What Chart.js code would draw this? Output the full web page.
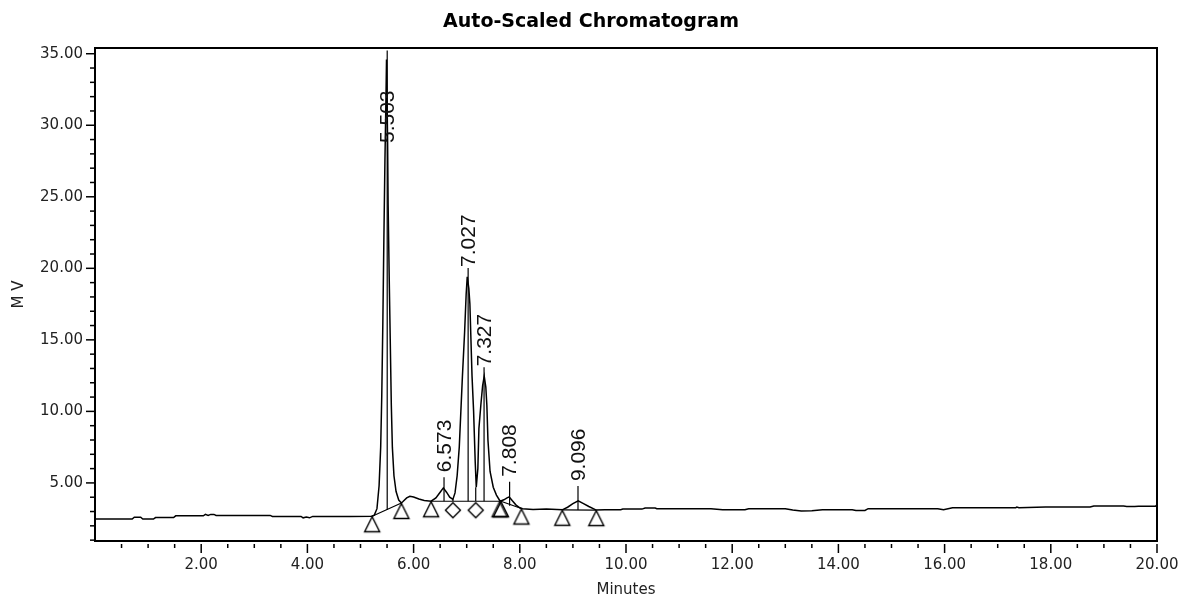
<!DOCTYPE html>
<html><head><meta charset="utf-8">
<script src="https://cdn.jsdelivr.net/npm/chart.js@4"></script>
<style>html,body{margin:0;padding:0;background:#fff;}canvas{display:block;}</style>
</head><body>
<canvas id="c" width="1182" height="598"></canvas>
<script>
// ---- data ----
const traceTime = [0.00,0.70,0.74,0.86,0.90,1.10,1.14,1.48,1.52,2.04,2.08,2.13,2.18,2.24,2.28,3.30,3.34,3.88,3.92,3.98,4.04,4.10,4.80,5.21,
  5.26,5.31,5.35,5.38,5.40,5.42,5.44,5.46,5.48,5.49,5.51,5.52,5.54,5.56,5.58,5.60,5.63,5.67,5.72,5.77,
  5.80,5.87,5.93,6.00,6.10,6.20,6.33,6.42,6.50,6.56,6.62,6.68,6.74,
  6.78,6.82,6.86,6.89,6.92,6.96,6.99,7.01,7.04,7.06,7.08,7.10,7.13,7.16,7.18,
  7.21,7.23,7.27,7.30,7.33,7.36,7.38,7.40,7.44,7.50,7.56,7.63,
  7.70,7.76,7.80,7.86,7.93,8.00,8.05,8.25,8.50,8.80,8.90,9.00,9.10,9.20,9.30,9.44,
  9.60,9.90,9.94,10.30,10.36,10.55,10.58,11.60,11.82,12.24,12.31,13.00,13.14,13.30,13.50,13.70,14.26,14.33,14.50,14.56,
  15.87,15.98,16.15,17.34,17.36,17.40,17.90,18.74,18.81,19.37,19.43,19.58,19.65,19.97,20.00];
const traceSignal = [2.48,2.48,2.60,2.60,2.47,2.47,2.58,2.58,2.70,2.70,2.80,2.73,2.80,2.80,2.73,2.73,2.66,2.66,2.56,2.61,2.56,2.66,2.66,2.67,
  2.75,3.2,4.8,7.5,11.0,16.0,22.0,27.5,32.0,34.6,29.0,24.5,19.5,15.0,10.5,7.5,5.5,4.4,3.8,3.6,
  3.7,3.95,4.07,4.02,3.88,3.77,3.72,3.95,4.35,4.65,4.35,4.0,3.85,
  4.3,5.5,7.5,10.0,12.5,15.5,18.2,19.4,18.6,17.5,15.0,12.5,10.0,6.5,4.7,
  6.0,8.8,10.6,11.8,12.45,11.7,10.4,8.0,5.8,4.7,4.15,3.72,
  3.82,3.95,4.02,3.75,3.45,3.26,3.2,3.15,3.18,3.12,3.3,3.55,3.75,3.55,3.35,3.1,
  3.12,3.12,3.17,3.17,3.25,3.25,3.2,3.2,3.12,3.12,3.2,3.2,3.1,3.03,3.06,3.13,3.13,3.07,3.08,3.2,
  3.2,3.12,3.27,3.27,3.31,3.27,3.32,3.32,3.39,3.39,3.35,3.35,3.37,3.37,3.47];

const peakTimes  = [5.503, 6.573, 7.027, 7.327, 7.808, 9.096];
const peakLabels = ['5.503','6.573','7.027','7.327','7.808','9.096'];
const peakApex   = [34.6, 4.65, 19.4, 12.45, 4.02, 3.75];
const peakBase   = [3.1, 3.72, 3.72, 3.72, 3.4, 3.1];

const triTime  = [5.22, 5.77, 6.33, 7.62, 7.645, 8.03, 8.80, 9.44];
const triValue = [2.67, 3.6, 3.72, 3.72, 3.72, 3.21, 3.12, 3.1];
const diaTime  = [6.74, 7.17];
const diaValue = [3.72, 3.72];

const segStartT = [5.22, 6.33, 7.645, 8.80, 6.74, 7.17];
const segStartV = [2.67, 3.72, 3.72, 3.12, 3.85, 4.7];
const segEndT   = [5.77, 7.63, 8.03, 9.44, 6.74, 7.17];
const segEndV   = [3.6, 3.72, 3.21, 3.1, 3.72, 3.72];

const xTickValues = [2,4,6,8,10,12,14,16,18,20];
const xTickLabels = ['2.00','4.00','6.00','8.00','10.00','12.00','14.00','16.00','18.00','20.00'];
const yTickValues = [5,10,15,20,25,30,35];
const yTickLabels = ['5.00','10.00','15.00','20.00','25.00','30.00','35.00'];
const xMinorStep = 0.5, yMinorStep = 1;
const xMin = 0, xMax = 20, yMin = 0.94, yMax = 35.4;

const titleText = 'Auto-Scaled Chromatogram';
const xTitle = 'Minutes';
const yTitle = 'M V';

// ---- marker glyphs (apex of glyph sits at the data point) ----
function makeTri(){
  const c=document.createElement('canvas'); c.width=20; c.height=40;
  const g=c.getContext('2d'); g.strokeStyle='#000'; g.lineWidth=1.4;
  g.beginPath(); g.moveTo(10,20.5); g.lineTo(2.5,35.5); g.lineTo(17.5,35.5); g.closePath(); g.stroke();
  return c;
}
function makeDia(){
  const c=document.createElement('canvas'); c.width=20; c.height=40;
  const g=c.getContext('2d'); g.strokeStyle='#000'; g.lineWidth=1.4;
  g.beginPath(); g.moveTo(10,21.5); g.lineTo(17.5,29); g.lineTo(10,36.5); g.lineTo(2.5,29); g.closePath(); g.stroke();
  return c;
}

const traceData = traceTime.map((t,i)=>({x:t,y:traceSignal[i]}));
const baseSegData = [];
segStartT.forEach((t,i)=>{ baseSegData.push({x:t,y:segStartV[i]},{x:segEndT[i],y:segEndV[i]},{x:segEndT[i],y:null}); });
const triData = triTime.map((t,i)=>({x:t,y:triValue[i]}));
const diaData = diaTime.map((t,i)=>({x:t,y:diaValue[i]}));

const decor = {
  id:'decor',
  afterDraw(chart){
    const {ctx, chartArea:a, scales:{x,y}} = chart;
    ctx.save();
    ctx.strokeStyle='#000'; ctx.fillStyle='#111';
    ctx.lineWidth=2;
    ctx.strokeRect(a.left, a.top, a.right-a.left, a.bottom-a.top);
    ctx.lineWidth=1.5;
    for(let v=Math.ceil(yMin); v<=yMax; v+=yMinorStep){
      const py=y.getPixelForValue(v);
      const len = yTickValues.includes(v) ? 9 : 5;
      ctx.beginPath(); ctx.moveTo(a.left-len, py); ctx.lineTo(a.left, py); ctx.stroke();
    }
    for(let v=xMin+xMinorStep; v<=xMax+1e-9; v+=xMinorStep){
      const px=x.getPixelForValue(v);
      const major = xTickValues.some(t=>Math.abs(t-v)<1e-6);
      ctx.beginPath(); ctx.moveTo(px, a.bottom+3); ctx.lineTo(px, a.bottom+(major?12:7)); ctx.stroke();
    }
    ctx.lineWidth=1.2;
    ctx.font='21px "Liberation Sans"';
    peakTimes.forEach((t,i)=>{
      const px=x.getPixelForValue(t);
      const pa=y.getPixelForValue(peakApex[i]);
      const pb=y.getPixelForValue(peakBase[i]);
      const tickTop=Math.min(pa-9, pb-24);
      ctx.beginPath(); ctx.moveTo(px,pb); ctx.lineTo(px,tickTop); ctx.stroke();
      const w=ctx.measureText(peakLabels[i]).width;
      let bottom=Math.min(pa-10, pb-29);
      if(bottom-w < a.top+4) bottom=a.top+95;
      ctx.save(); ctx.translate(px,bottom); ctx.rotate(-Math.PI/2);
      ctx.textAlign='left'; ctx.textBaseline='middle';
      ctx.fillText(peakLabels[i],0,1);
      ctx.restore();
    });
    ctx.fillStyle='#000';
    ctx.font='bold 19px "DejaVu Sans"'; ctx.textAlign='center'; ctx.textBaseline='alphabetic';
    ctx.fillText(titleText, chart.width/2, 27);
    ctx.fillStyle='#222';
    ctx.font='15px "DejaVu Sans"';
    ctx.fillText(xTitle, (a.left+a.right)/2, 594);
    ctx.save(); ctx.translate(23,(a.top+a.bottom)/2); ctx.rotate(-Math.PI/2);
    ctx.fillText(yTitle,0,0); ctx.restore();
    ctx.restore();
  }
};

new Chart(document.getElementById('c'), {
  type:'line',
  data:{datasets:[
    {data:traceData, borderColor:'#000', borderWidth:1.5, pointRadius:0, tension:0, fill:false},
    {data:baseSegData, borderColor:'#000', borderWidth:1.2, pointRadius:0, tension:0, fill:false, spanGaps:false},
    {data:triData, showLine:false, pointStyle:makeTri(), pointRadius:3},
    {data:diaData, showLine:false, pointStyle:makeDia(), pointRadius:3}
  ]},
  options:{
    responsive:false, animation:false, devicePixelRatio:1,
    layout:{padding:{left:0, top:48, right:25, bottom:0}},
    plugins:{legend:{display:false}, tooltip:{enabled:false}, title:{display:false}},
    events:[],
    scales:{
      x:{type:'linear', min:xMin, max:xMax,
        grid:{display:false, drawTicks:false}, border:{display:false},
        afterBuildTicks:(s)=>{ s.ticks = xTickValues.map(v=>({value:v})); },
        afterFit:(s)=>{ s.height = 57; s.paddingLeft = 0; s.paddingRight = 0; },
        ticks:{autoSkip:false, maxRotation:0, padding:15, color:'#222',
          font:{family:'"DejaVu Sans"', size:15},
          callback:(v,i)=>xTickLabels[i]}},
      y:{type:'linear', min:yMin, max:yMax,
        grid:{display:false, drawTicks:false}, border:{display:false},
        afterBuildTicks:(s)=>{ s.ticks = yTickValues.map(v=>({value:v})); },
        afterFit:(s)=>{ s.width = 95; s.paddingTop = 0; s.paddingBottom = 0; },
        ticks:{autoSkip:false, padding:12, color:'#222',
          font:{family:'"DejaVu Sans"', size:15},
          callback:(v,i)=>yTickLabels[i]}}
    }
  },
  plugins:[decor]
});
</script>
</body></html>
